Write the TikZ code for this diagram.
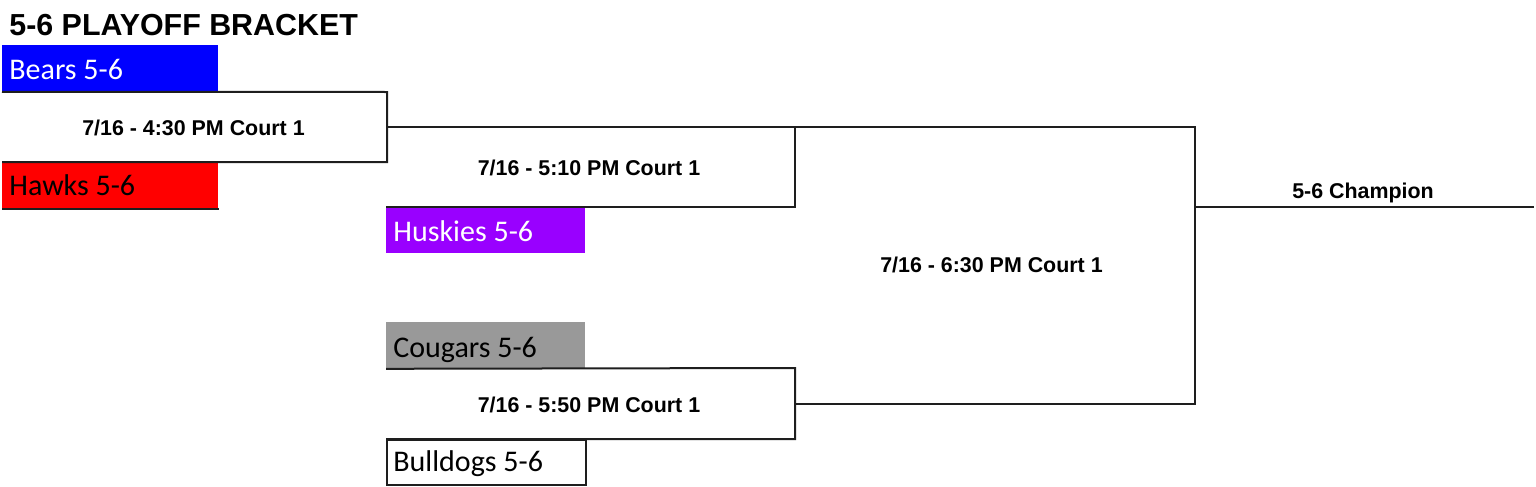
\documentclass[tikz,border=0pt]{standalone}
\usepackage{fontspec}
\setmainfont{Liberation Sans}
\newfontfamily\teamfont{Carlito}
\definecolor{bearblue}{RGB}{0,0,255}
\definecolor{hawkred}{RGB}{255,0,0}
\definecolor{huskpurple}{RGB}{153,0,255}
\definecolor{cougray}{RGB}{153,153,153}
\definecolor{linegray}{RGB}{30,30,30}
\tikzset{
  teambox/.style={rectangle, inner sep=0pt, minimum width=#1, minimum height=23pt, anchor=north west},
  teamtext/.style={anchor=base west, inner sep=0pt, font=\teamfont\fontsize{15}{16}\selectfont},
  gametext/.style={anchor=base, inner sep=0pt, font=\bfseries\fontsize{10.7}{12}\selectfont},
  bracketline/.style={draw=linegray, line width=1pt},
}
\begin{document}
\begin{tikzpicture}[x=0.5pt,y=-0.5pt]
\useasboundingbox (0,0) rectangle (1536,487);
% title
\node[anchor=base west, inner sep=0pt, font=\bfseries\fontsize{15.2}{18}\selectfont] (title) at (9,35) {5-6 PLAYOFF BRACKET};
% team boxes
\node[teambox=108pt, fill=bearblue] (bears) at (2,45) {};
\node[teambox=108pt, fill=hawkred] (hawks) at (2,162) {};
\node[teambox=99.5pt, fill=huskpurple] (huskies) at (386,207) {};
\node[teambox=99.5pt, fill=cougray] (cougars) at (386,322) {};
\node[teambox=99.5pt, minimum height=22.5pt, draw=linegray, line width=1pt] (bulldogs) at (386,439) {};
% team names
\node[teamtext, text=white] (tbears) at (9,79) {Bears 5-6};
\node[teamtext] (thawks) at (9,195) {Hawks 5-6};
\node[teamtext, text=white] (thuskies) at (393,241) {Huskies 5-6};
\node[teamtext] (tcougars) at (393,357) {Cougars 5-6};
\node[teamtext] (tbulldogs) at (393,471) {Bulldogs 5-6};
% bracket joints
\coordinate (c1t) at (387,92);
\coordinate (c1b) at (387,162);
\coordinate (w1) at (387,127);
\coordinate (c2t) at (795,127);
\coordinate (c2b) at (795,207);
\coordinate (c3t) at (795,368);
\coordinate (c3b) at (795,439);
\coordinate (w3) at (795,404);
\coordinate (ft) at (1195,127);
\coordinate (fb) at (1195,404);
\coordinate (wf) at (1195,207);
\coordinate (champend) at (1534,207);
% game labels
\node[gametext] (g1) at (193.5,135) {7/16 - 4:30 PM Court 1};
\node[gametext] (g2) at (589,175) {7/16 - 5:10 PM Court 1};
\node[gametext] (g3) at (589,412) {7/16 - 5:50 PM Court 1};
\node[gametext] (g4) at (991.5,272) {7/16 - 6:30 PM Court 1};
\node[gametext] (champ) at (1363,198) {5-6 Champion};
% bracket lines
\draw[bracketline] (bears.south west) -- (c1t) -- (c1b) -- (hawks.north west);
\draw[bracketline] (hawks.south west) -- (hawks.south east);
\draw[bracketline] (w1) -- (c2t) -- (ft) -- (fb) -- (w3);
\draw[bracketline] (c2t) -- (c2b) -- (huskies.north west);
\draw[bracketline] (cougars.south west) -- (c3t) -- (c3b) -- (bulldogs.north west);
\draw[bracketline] (wf) -- (champend);
\end{tikzpicture}
\end{document}
